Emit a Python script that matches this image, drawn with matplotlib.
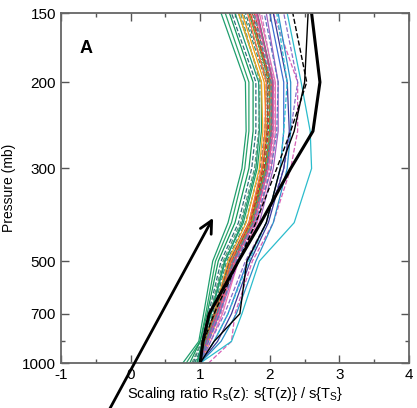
import numpy as np
import matplotlib
matplotlib.use("Agg")
import matplotlib.pyplot as plt
from matplotlib.ticker import FixedLocator, NullFormatter

plt.rcParams['font.family'] = ['Liberation Sans', 'DejaVu Sans']
plt.rcParams['axes.unicode_minus'] = False

# pressure levels (mb) shared by every profile
levels = [1000, 850, 700, 500, 400, 300, 250, 200, 150]

# model profiles of the scaling ratio, grouped by colour family
green_curves = [
    [0.75, 0.98, 1.05, 1.18, 1.40, 1.60, 1.66, 1.65, 1.30],
    [0.80, 1.00, 1.08, 1.22, 1.45, 1.64, 1.70, 1.70, 1.36],
    [0.85, 1.00, 1.10, 1.26, 1.50, 1.70, 1.76, 1.76, 1.42],
    [0.90, 1.02, 1.12, 1.30, 1.55, 1.74, 1.80, 1.80, 1.45],
    [0.95, 1.03, 1.15, 1.35, 1.62, 1.82, 1.88, 1.88, 1.55],
    [0.98, 1.05, 1.18, 1.38, 1.65, 1.86, 1.93, 1.95, 1.62],
    [1.00, 1.08, 1.22, 1.45, 1.72, 1.93, 2.00, 2.00, 1.70],
    [0.92, 1.06, 1.20, 1.42, 1.70, 1.90, 1.97, 1.97, 1.65],
    [1.00, 1.06, 1.20, 1.42, 1.70, 1.90, 1.96, 1.96, 1.72],
    [0.96, 1.04, 1.16, 1.36, 1.60, 1.80, 1.85, 1.84, 1.50],
    [0.88, 1.02, 1.14, 1.33, 1.58, 1.78, 1.84, 1.86, 1.58],
    [1.00, 1.07, 1.21, 1.44, 1.73, 1.95, 2.02, 2.05, 1.82],
]
green_colors = ['#1f9e6e', '#2aa36b', '#139a5c', '#2f6f7a', '#1fa060',
                '#3a8a78', '#0f9d58', '#2b7f6a', '#4aa37a', '#1a9a74',
                '#5a9a7a', '#1c8f4f']
green_styles = ['-', '-', '-', '--', '-', '--', '-', '--', ':', '-',
                '--', '-']

warm_curves = [
    [1.00, 1.06, 1.20, 1.40, 1.66, 1.85, 1.90, 1.88, 1.55],
    [1.02, 1.12, 1.28, 1.50, 1.72, 1.90, 1.95, 1.92, 1.60],
    [1.00, 1.10, 1.25, 1.48, 1.75, 1.95, 2.02, 2.02, 1.72],
    [1.00, 1.08, 1.22, 1.45, 1.72, 1.92, 1.98, 2.00, 1.78],
    [1.00, 1.07, 1.20, 1.42, 1.70, 1.90, 1.96, 1.98, 1.75],
    [1.00, 1.08, 1.24, 1.46, 1.74, 1.94, 2.00, 2.00, 1.70],
    [1.00, 1.10, 1.26, 1.50, 1.78, 1.98, 2.04, 2.04, 1.78],
    [1.00, 1.09, 1.23, 1.44, 1.70, 1.88, 1.93, 1.95, 1.68],
]
warm_colors = ['#f5a623', '#f39c12', '#e8402a', '#d62728', '#a0522d',
               '#9a9a30', '#888888', '#ff6f3c']
warm_styles = ['-', '-', '-', '--', '--', '--', '--', '-']

pink_curves = [
    [1.00, 1.10, 1.26, 1.50, 1.78, 1.98, 2.05, 2.05, 1.80],
    [1.02, 1.15, 1.32, 1.55, 1.82, 2.02, 2.08, 2.08, 1.85],
    [1.12, 1.45, 1.50, 1.75, 2.05, 2.30, 2.40, 2.40, 2.05],
    [1.00, 1.10, 1.28, 1.55, 1.85, 2.05, 2.12, 2.12, 1.95],
    [1.00, 1.15, 1.35, 1.65, 1.95, 2.20, 2.30, 2.40, 2.20],
    [1.00, 1.12, 1.30, 1.52, 1.80, 2.00, 2.06, 2.06, 1.88],
    [1.00, 1.09, 1.24, 1.47, 1.76, 1.96, 2.03, 2.04, 1.82],
]
pink_colors = ['#e64d9b', '#f06fb0', '#d65fb5', '#a35fc2', '#8a6bc9',
               '#c77dbd', '#b05090']
pink_styles = ['-', '-', '--', '-', '--', '--', '-']

blue_curves = [
    [1.00, 1.20, 1.40, 1.68, 1.95, 2.15, 2.20, 2.20, 2.00],
    [1.00, 1.25, 1.45, 1.72, 1.98, 2.20, 2.28, 2.25, 2.05],
    [1.00, 1.45, 1.60, 1.85, 2.35, 2.60, 2.58, 2.45, 2.25],
    [1.00, 1.20, 1.40, 1.70, 1.95, 2.15, 2.20, 2.25, 2.10],
    [1.00, 1.30, 1.52, 1.80, 2.05, 2.25, 2.30, 2.30, 2.12],
    [1.00, 1.08, 1.24, 1.48, 1.76, 1.96, 2.02, 2.02, 1.76],
    [1.00, 1.12, 1.28, 1.52, 1.80, 2.02, 2.10, 2.12, 1.92],
]
blue_colors = ['#3d6fd1', '#3b3b9a', '#2bbccc', '#30c0d0', '#2a90c8',
               '#4a8fa0', '#5a78c0']
blue_styles = ['-', '-', '-', '--', '-', '--', '--']

# observational profiles (black)
obs_thick = [1.00, 1.04, 1.13, 1.55, 1.87, 2.30, 2.62, 2.72, 2.60]
obs_thin = [1.00, 1.20, 1.57, 1.67, 1.95, 2.15, 2.35, 2.50, 2.55]
obs_dashed = [1.00, 1.05, 1.20, 1.55, 1.80, 2.10, 2.30, 2.53, 2.33]

ytick_values = [150, 200, 300, 500, 700, 1000]
yminor_values = [850]
xtick_values = [-1, 0, 1, 2, 3, 4]


# height-like pressure axis: increasing with p, inverted by the limits
def _fwd(p):
    return -(1000.0 / np.asarray(p, dtype=float)) ** 0.35


def _inv(y):
    return 1000.0 * np.abs(np.asarray(y, dtype=float)) ** (-1 / 0.35)


fig = plt.figure(figsize=(4.17, 4.08), dpi=100)
ax = fig.add_axes([0.146, 0.110, 0.835, 0.858])
ax.set_yscale('function', functions=(_fwd, _inv))

for group, colors, styles in [
    (green_curves, green_colors, green_styles),
    (warm_curves, warm_colors, warm_styles),
    (pink_curves, pink_colors, pink_styles),
    (blue_curves, blue_colors, blue_styles),
]:
    for vals, c, ls in zip(group, colors, styles):
        ax.plot(vals, levels, color=c, ls=ls, lw=0.9)

ax.plot(obs_dashed, levels, color='black', ls='--', lw=1.0)
ax.plot(obs_thin, levels, color='black', lw=1.0)
ax.plot(obs_thick, levels, color='black', lw=2.2)

ax.set_xlim(-1, 4)
ax.set_ylim(1000, 150)
ax.xaxis.set_major_locator(FixedLocator(xtick_values))
ax.xaxis.set_minor_locator(FixedLocator(np.arange(-0.5, 4, 1.0)))
ax.yaxis.set_major_locator(FixedLocator(ytick_values))
ax.yaxis.set_minor_locator(FixedLocator(yminor_values))
ax.yaxis.set_minor_formatter(NullFormatter())
ax.set_yticklabels([str(v) for v in ytick_values])

ax.tick_params(which='both', direction='in', top=True, right=True,
               color='#555555', labelsize=11)
ax.tick_params(which='major', length=6, width=1)
ax.tick_params(which='minor', length=3, width=1)
for sp in ax.spines.values():
    sp.set_color('#666666')
    sp.set_linewidth(1.3)

ax.set_xlabel('Scaling ratio R$_\\mathregular{s}$(z): s{T(z)} / s{T$_\\mathregular{S}$}',
              fontsize=10.5, labelpad=2)
ax.set_ylabel('Pressure (mb)', fontsize=10, labelpad=4)
ax.text(0.055, 0.885, 'A', transform=ax.transAxes, fontsize=13,
        fontweight='bold')

ax.annotate('', xy=(0.511, 0.466), xytext=(0.259, -0.01),
            xycoords='figure fraction', textcoords='figure fraction',
            arrowprops=dict(arrowstyle='->', color='black', lw=2,
                            mutation_scale=22, shrinkA=0, shrinkB=0))

fig.savefig('out.png', dpi=100)
